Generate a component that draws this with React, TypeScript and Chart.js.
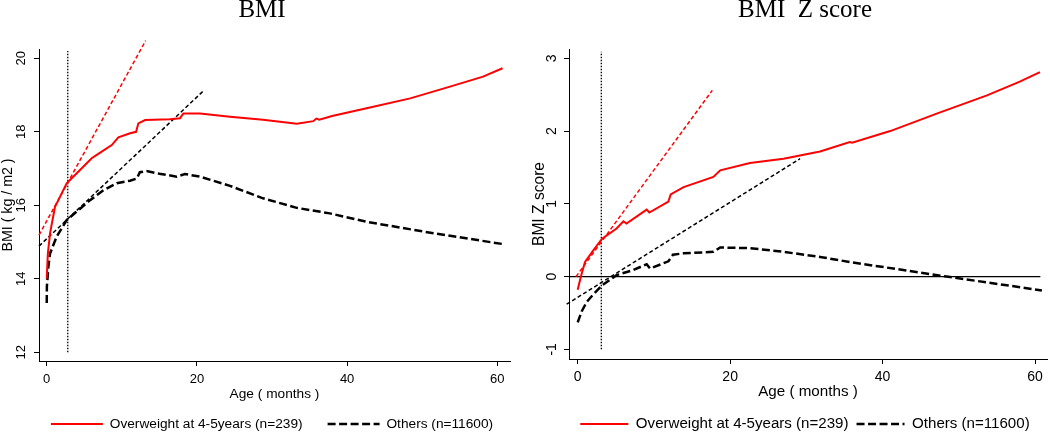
import React, { useEffect, useRef } from "react";
import { Chart, registerables } from "chart.js";
Chart.register(...registerables);

// ---------- shared ----------
const legendLabels = ["Overweight at 4-5years (n=239)", "Others (n=11600)"];
const xTicks = [0, 20, 40, 60];
const bmiTicks = [12, 14, 16, 18, 20];
const zTicks = [-1, 0, 1, 2, 3];

// ---------- BMI panel ----------
const bmiOverAge = [0, 0.15, 0.45, 1.1, 1.55, 2.66, 4.43, 5.99, 6.66, 8.66, 9.54, 11.1, 11.9, 12.2, 13.1, 16.4, 17.75, 18.2, 20.4, 24.4, 28.8, 33.3, 35.5, 35.9, 36.3, 38, 42.6, 48.4, 53.7, 58.1, 60.7];
const bmiOverVal = [14.0, 14.69, 15.25, 15.96, 16.14, 16.6, 16.96, 17.28, 17.37, 17.64, 17.85, 17.96, 18.0, 18.23, 18.32, 18.34, 18.37, 18.5, 18.5, 18.41, 18.33, 18.22, 18.29, 18.36, 18.33, 18.43, 18.64, 18.91, 19.23, 19.5, 19.73];
const bmiOthAge = [0, 0.02, 0.22, 0.44, 1.33, 2.66, 4.4, 5.77, 7.5, 9.32, 11.1, 12.0, 12.4, 13.3, 15, 17.3, 18.4, 20.4, 24.4, 28.8, 33.3, 37.7, 42.6, 51.5, 60.9];
const bmiOthVal = [13.34, 13.79, 14.33, 14.69, 15.15, 15.6, 15.9, 16.14, 16.4, 16.6, 16.67, 16.73, 16.9, 16.93, 16.86, 16.78, 16.85, 16.78, 16.53, 16.19, 15.93, 15.78, 15.55, 15.24, 14.94];
const bmiOverFitAge = [-1.03, 13.17];
const bmiOverFitVal = [15.19, 20.48];
const bmiOthFitAge = [-1.03, 20.85];
const bmiOthFitVal = [14.89, 19.11];
const bmiRefAge = [2.8, 2.8];
const bmiRefVal = [12, 20.2];

// ---------- Z score panel ----------
const zOverAge = [0, 0.3, 0.52, 0.96, 2.05, 3.2, 5.1, 6.0, 6.4, 9.05, 9.4, 11.9, 12.2, 13.9, 17.8, 18.7, 22.6, 27.0, 31.8, 35.7, 36.0, 41, 47.1, 53.7, 58.0, 60.65];
const zOverVal = [-0.18, -0.05, 0.04, 0.2, 0.36, 0.52, 0.66, 0.76, 0.73, 0.92, 0.88, 1.03, 1.13, 1.23, 1.37, 1.46, 1.56, 1.62, 1.72, 1.85, 1.84, 2.0, 2.24, 2.49, 2.68, 2.81];
const zOthAge = [0, 0.52, 1.18, 2, 3.2, 5.1, 7.3, 9.05, 9.5, 11.9, 12.5, 13.9, 17.8, 18.7, 22.6, 27.0, 31.8, 35.7, 48.4, 60.9];
const zOthVal = [-0.63, -0.48, -0.35, -0.25, -0.12, 0.02, 0.09, 0.17, 0.11, 0.21, 0.3, 0.32, 0.34, 0.4, 0.39, 0.34, 0.27, 0.2, 0.0, -0.19];
const zOverFitAge = [-0.22, 17.66];
const zOverFitVal = [0.0, 2.56];
const zOthFitAge = [-1.45, 29.17];
const zOthFitVal = [-0.38, 1.62];
const zRefAge = [3.1, 3.1];
const zRefVal = [-1, 3.09];
const zZeroAge = [-1.14, 60.7];
const zZeroVal = [0, 0];

const pts = (xs: number[], ys: number[]) => xs.map((x, i) => ({ x, y: ys[i] }));

const SANS = "'Liberation Sans', Arial, sans-serif";
const SERIF = "'Liberation Serif', 'Times New Roman', serif";

type PanelCfg = {
  title: string;
  titleFull: boolean;
  titleShift: number;
  legendFull: boolean;
  legendShift: number;
  yTitle: string;
  yTicks: number[];
  xMin: number; xMax: number; yMin: number; yMax: number;
  padRight: number; padBottom: number;
  yAxisW: number; xAxisH: number;
  tickFont: number; xTitleFont: number; yTitleFont: number; legendFont: number;
  xTickPad: number; yTickPad: number; xTitlePadBottom: number; yTitlePadTop: number;
  legendPad: number; legendBoxW: number;
  datasets: any[];
};

function buildDatasets(over: any[], oth: any[], overFit: any[], othFit: any[], ref: any[], extra: any[]) {
  const ds: any[] = [
    { label: legendLabels[0], data: over, borderColor: "#ff0000", borderWidth: 2, borderDash: [] },
    { label: legendLabels[1], data: oth, borderColor: "#000000", borderWidth: 2.5, borderDash: [8, 3.5] },
    { label: "", data: overFit, borderColor: "#ff0000", borderWidth: 1.5, borderDash: [4, 2.5], clip: false },
    { label: "", data: othFit, borderColor: "#000000", borderWidth: 1.5, borderDash: [4, 2.5], clip: false },
    { label: "", data: ref, borderColor: "#000000", borderWidth: 1.3, borderDash: [1.5, 1.5], clip: false },
  ];
  extra.forEach((e) => ds.push({ label: "", data: e, borderColor: "#000000", borderWidth: 1.3, borderDash: [] }));
  return ds.map((d) => ({ ...d, pointRadius: 0, pointStyle: "line", fill: false, tension: 0, backgroundColor: d.borderColor }));
}

function makeConfig(p: PanelCfg): any {
  const axisCommon = {
    grid: { display: true, drawOnChartArea: false, drawTicks: true, tickLength: 5, color: "#000", lineWidth: 1 },
    border: { display: true, color: "#000", width: 1 },
  };
  return {
    type: "line",
    data: { datasets: p.datasets },
    options: {
      responsive: false,
      animation: false,
      devicePixelRatio: 1,
      events: [],
      layout: { padding: { top: 0, left: 0, right: p.padRight, bottom: p.padBottom } },
      scales: {
        x: {
          type: "linear",
          min: p.xMin,
          max: p.xMax,
          afterBuildTicks: (s: any) => { s.ticks = xTicks.map((v) => ({ value: v })); },
          afterFit: (s: any) => { s.height = p.xAxisH; },
          ...axisCommon,
          ticks: { color: "#000", autoSkip: false, maxRotation: 0, minRotation: 0, padding: p.xTickPad, font: { family: SANS, size: p.tickFont } },
          title: { display: true, text: "Age ( months )", color: "#000", font: { family: SANS, size: p.xTitleFont }, padding: { top: 0, bottom: p.xTitlePadBottom } },
        },
        y: {
          type: "linear",
          min: p.yMin,
          max: p.yMax,
          afterBuildTicks: (s: any) => { s.ticks = p.yTicks.map((v) => ({ value: v })); },
          afterFit: (s: any) => { s.width = p.yAxisW; },
          ...axisCommon,
          ticks: { color: "#000", autoSkip: false, minRotation: 90, maxRotation: 90, crossAlign: "center", padding: p.yTickPad, font: { family: SANS, size: p.tickFont } },
          title: { display: true, text: p.yTitle, color: "#000", font: { family: SANS, size: p.yTitleFont }, padding: { top: p.yTitlePadTop, bottom: 0 } },
        },
      },
      plugins: {
        tooltip: { enabled: false },
        title: {
          display: true,
          text: p.title,
          color: "#000",
          fullSize: p.titleFull,
          font: { family: SERIF, size: 25, weight: "normal", lineHeight: 1 },
          padding: { top: -2, bottom: 26 },
        },
        legend: {
          display: true,
          position: "bottom",
          fullSize: p.legendFull,
          labels: {
            usePointStyle: true,
            pointStyle: "line",
            pointStyleWidth: p.legendBoxW,
            padding: p.legendPad,
            color: "#000",
            font: { family: SANS, size: p.legendFont },
            generateLabels: (chart: any) =>
              chart.data.datasets.slice(0, 2).map((d: any, i: number) => ({
                text: d.label,
                datasetIndex: i,
                hidden: false,
                fillStyle: d.borderColor,
                strokeStyle: d.borderColor,
                fontColor: "#000",
                lineWidth: d.borderWidth,
                lineDash: d.borderDash,
                lineCap: "butt",
                pointStyle: "line",
                rotation: 0,
              })),
          },
        },
      },
    },
    plugins: [
      {
        id: "nudgeBlocks",
        afterLayout(chart: any) {
          const t = chart.titleBlock;
          if (t) { t.left += p.titleShift; t.right += p.titleShift; }
          const l = chart.legend;
          if (l) { l.left += p.legendShift; l.right += p.legendShift; }
        },
      },
    ],
  };
}

const bmiPanel: PanelCfg = {
  title: "BMI",
  titleFull: true,
  titleShift: 7,
  legendFull: true,
  legendShift: 17,
  yTitle: "BMI ( kg / m2 )",
  yTicks: bmiTicks,
  xMin: -1.03, xMax: 61.69, yMin: 11.763, yMax: 20.253,
  padRight: 15, padBottom: -8.85,
  yAxisW: 39, xAxisH: 31.15,
  tickFont: 13, xTitleFont: 13.7, yTitleFont: 14.2, legendFont: 13.7,
  xTickPad: 5.2, yTickPad: 5.1, xTitlePadBottom: -10.1, yTitlePadTop: 0,
  legendPad: 25, legendBoxW: 52,
  datasets: buildDatasets(
    pts(bmiOverAge, bmiOverVal), pts(bmiOthAge, bmiOthVal),
    pts(bmiOverFitAge, bmiOverFitVal), pts(bmiOthFitAge, bmiOthFitVal),
    pts(bmiRefAge, bmiRefVal), []
  ),
};

const zPanel: PanelCfg = {
  title: "BMI  Z score",
  titleFull: false,
  titleShift: -3,
  legendFull: false,
  legendShift: -3,
  yTitle: "BMI Z score",
  yTicks: zTicks,
  xMin: -1.14, xMax: 61.57, yMin: -1.133, yMax: 3.128,
  padRight: 3, padBottom: -9.55,
  yAxisW: 44, xAxisH: 49.45,
  tickFont: 14, xTitleFont: 15.2, yTitleFont: 15.6, legendFont: 15.1,
  xTickPad: 4.3, yTickPad: 6.1, xTitlePadBottom: 7.6, yTitlePadTop: 5.3,
  legendPad: 8, legendBoxW: 48,
  datasets: buildDatasets(
    pts(zOverAge, zOverVal), pts(zOthAge, zOthVal),
    pts(zOverFitAge, zOverFitVal), pts(zOthFitAge, zOthFitVal),
    pts(zRefAge, zRefVal), [pts(zZeroAge, zZeroVal)]
  ),
};

function Panel({ cfg }: { cfg: PanelCfg }) {
  const ref = useRef<HTMLCanvasElement | null>(null);
  useEffect(() => {
    if (!ref.current) return;
    const chart = new Chart(ref.current, makeConfig(cfg));
    return () => chart.destroy();
  }, [cfg]);
  return <canvas ref={ref} width={525} height={432} style={{ display: "block", width: 525, height: 432 }} />;
}

export default function App() {
  return (
    <div style={{ position: "absolute", left: 0, top: 0, width: 1050, height: 432, overflow: "hidden", display: "flex", background: "#fff" }}>
      <Panel cfg={bmiPanel} />
      <Panel cfg={zPanel} />
    </div>
  );
}
